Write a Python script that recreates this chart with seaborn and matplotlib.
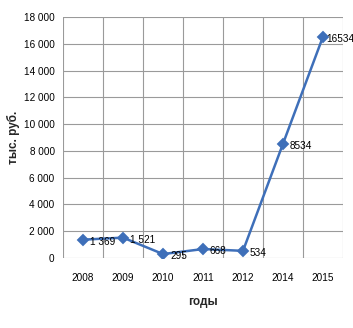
import matplotlib
matplotlib.use("Agg")
import matplotlib.pyplot as plt
import seaborn as sns
import pandas as pd

years = ["2008", "2009", "2010", "2011", "2012", "2014", "2015"]
values = [1369, 1521, 295, 668, 534, 8534, 16534]
value_labels = ["1 369", "1 521", "295", "668", "534", "8534", "16534"]
y_ticks = [0, 2000, 4000, 6000, 8000, 10000, 12000, 14000, 16000, 18000]

sns.set_theme(style="white")
plt.rcParams["font.family"] = ["Liberation Sans Narrow", "Liberation Sans", "DejaVu Sans"]

df = pd.DataFrame({"year": years, "value": values})

fig = plt.figure(figsize=(3.53, 3.28), dpi=100)
ax = fig.add_axes([63 / 353, 70 / 328, 280 / 353, 241 / 328])

line_color = "#3e6fb9"
sns.pointplot(data=df, x="year", y="value", color=line_color, markers="D",
              linestyles="-", ax=ax, markersize=5.5, linewidth=1.8)

ax.set_xlim(-0.5, len(years) - 0.5)
ax.set_ylim(0, 18000)
ax.set_yticks(y_ticks)
ax.set_yticklabels([f"{v:,}".replace(",", " ") for v in y_ticks])

# gridlines on category boundaries and on value ticks
for b in range(len(years) + 1):
    ax.axvline(b - 0.5, color="#9a9a9a", lw=0.8, zorder=0)
ax.yaxis.grid(True, color="#9a9a9a", lw=0.8)
ax.set_axisbelow(True)
for s in ax.spines.values():
    s.set_visible(False)

ax.tick_params(axis="y", length=0, pad=6, labelsize=7.2, colors="black")
ax.tick_params(axis="x", length=0, pad=11, labelsize=7.2, colors="black")

# value labels to the right of each point; the last one sits tight to the marker
for i, (v, lab) in enumerate(zip(values, value_labels)):
    dx = 2 if i == len(values) - 1 else 5
    ax.annotate(lab, (i, v), xytext=(dx, -1.5), textcoords="offset points",
                ha="left", va="center", fontsize=7.2, color="black")

ax.set_xlabel("годы", fontsize=8.5, fontweight="bold", labelpad=9)
ax.set_ylabel("тыс. руб.", fontsize=8.5, fontweight="bold", labelpad=3)

fig.savefig("out.png", dpi=100)
